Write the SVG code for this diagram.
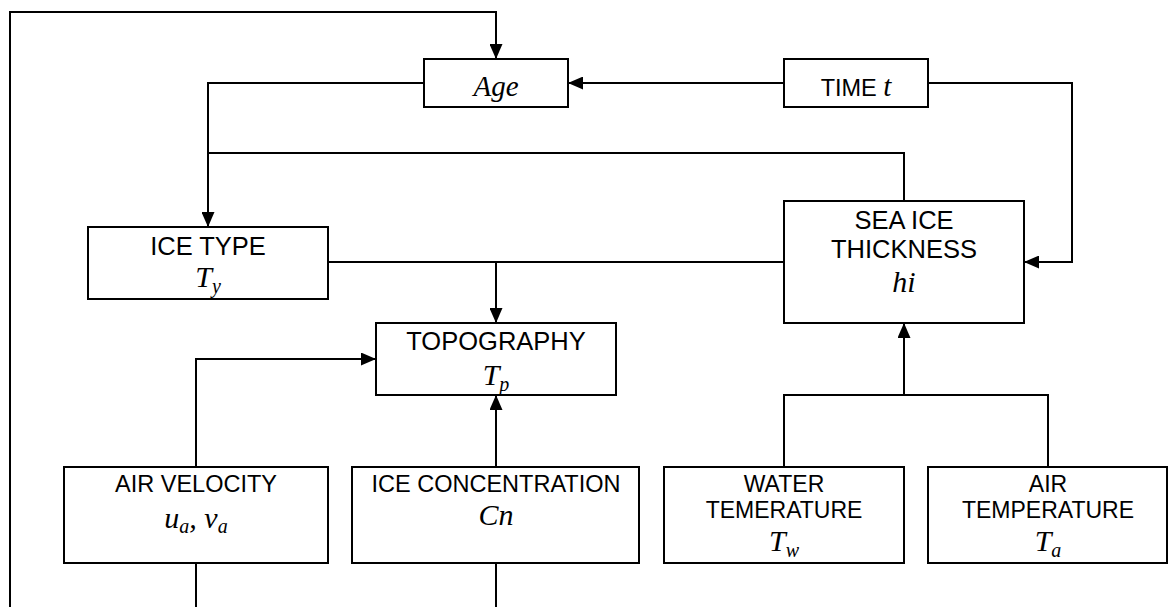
<svg xmlns="http://www.w3.org/2000/svg" width="1168" height="607" viewBox="0 0 1168 607">
<style>
.box{fill:#fff;stroke:#000;stroke-width:2}
.c{fill:none;stroke:#000;stroke-width:2}
.s{font-family:"Liberation Sans",Arial,sans-serif;font-size:23.5px;fill:#000;text-anchor:middle}
.L{font-size:25.5px}
.w{font-size:23px}
.m{font-family:"Liberation Serif","Times New Roman",serif;font-style:italic;font-size:30px;fill:#000;text-anchor:middle}
.sub{font-size:20px}
</style>
<defs>
<marker id="ah" markerUnits="userSpaceOnUse" markerWidth="15" markerHeight="13" refX="15" refY="6.5" orient="auto">
<path d="M0,0 L15,6.5 L0,13 z" fill="#000"/>
</marker>
</defs>
<g id="connectors">
<polyline class="c" points="10,607 10,12 496,12 496,59" marker-end="url(#ah)"/>
<polyline class="c" points="784,83 568,83" marker-end="url(#ah)"/>
<polyline class="c" points="928,83 1072,83 1072,262 1024,262" marker-end="url(#ah)"/>
<polyline class="c" points="424,83 208,83 208,227" marker-end="url(#ah)"/>
<polyline class="c" points="208,153 904,153 904,201"/>
<polyline class="c" points="328,262 784,262"/>
<polyline class="c" points="496,262 496,323" marker-end="url(#ah)"/>
<polyline class="c" points="196,467 196,359 376,359" marker-end="url(#ah)"/>
<polyline class="c" points="496,467 496,395" marker-end="url(#ah)"/>
<polyline class="c" points="784,467 784,395 1048,395 1048,467"/>
<polyline class="c" points="904,395 904,323" marker-end="url(#ah)"/>
<polyline class="c" points="196,563 196,607"/>
<polyline class="c" points="496,563 496,607"/>
</g>
<g id="age">
<rect class="box" x="424" y="59" width="144" height="48"/>
<text class="m" x="496" y="96" style="font-size:29px">Age</text>
</g>
<g id="time">
<rect class="box" x="784" y="59" width="144" height="48"/>
<text class="s" x="856" y="96">TIME <tspan class="m" style="font-size:29px">t</tspan></text>
</g>
<g id="icetype">
<rect class="box" x="88" y="227" width="240" height="72"/>
<text class="s L" x="208" y="255">ICE TYPE</text>
<text class="m" x="208" y="287">T<tspan class="sub" dy="6">y</tspan></text>
</g>
<g id="seaice">
<rect class="box" x="784" y="201" width="240" height="122"/>
<text class="s L" x="904" y="229">SEA ICE</text>
<text class="s L" x="904" y="258">THICKNESS</text>
<text class="m" x="904" y="292">hi</text>
</g>
<g id="topography">
<rect class="box" x="376" y="323" width="240" height="72"/>
<text class="s L" x="496" y="350">TOPOGRAPHY</text>
<text class="m" x="496" y="385">T<tspan class="sub" dy="6">p</tspan></text>
</g>
<g id="airvelocity">
<rect class="box" x="64" y="467" width="264" height="96"/>
<text class="s" x="196" y="492">AIR VELOCITY</text>
<text class="m" x="196" y="528">u<tspan class="sub" dy="5">a</tspan><tspan dy="-5">, v</tspan><tspan class="sub" dy="5">a</tspan></text>
</g>
<g id="iceconc">
<rect class="box" x="352" y="467" width="287" height="96"/>
<text class="s" x="496" y="492">ICE CONCENTRATION</text>
<text class="m" x="496" y="525">Cn</text>
</g>
<g id="watertemp">
<rect class="box" x="664" y="467" width="240" height="96"/>
<text class="s w" x="784" y="492">WATER</text>
<text class="s w" x="784" y="518">TEMERATURE</text>
<text class="m" x="784" y="551">T<tspan class="sub" dy="6">w</tspan></text>
</g>
<g id="airtemp">
<rect class="box" x="928" y="467" width="239" height="96"/>
<text class="s w" x="1048" y="492">AIR</text>
<text class="s w" x="1048" y="518">TEMPERATURE</text>
<text class="m" x="1048" y="551">T<tspan class="sub" dy="6">a</tspan></text>
</g>
</svg>
